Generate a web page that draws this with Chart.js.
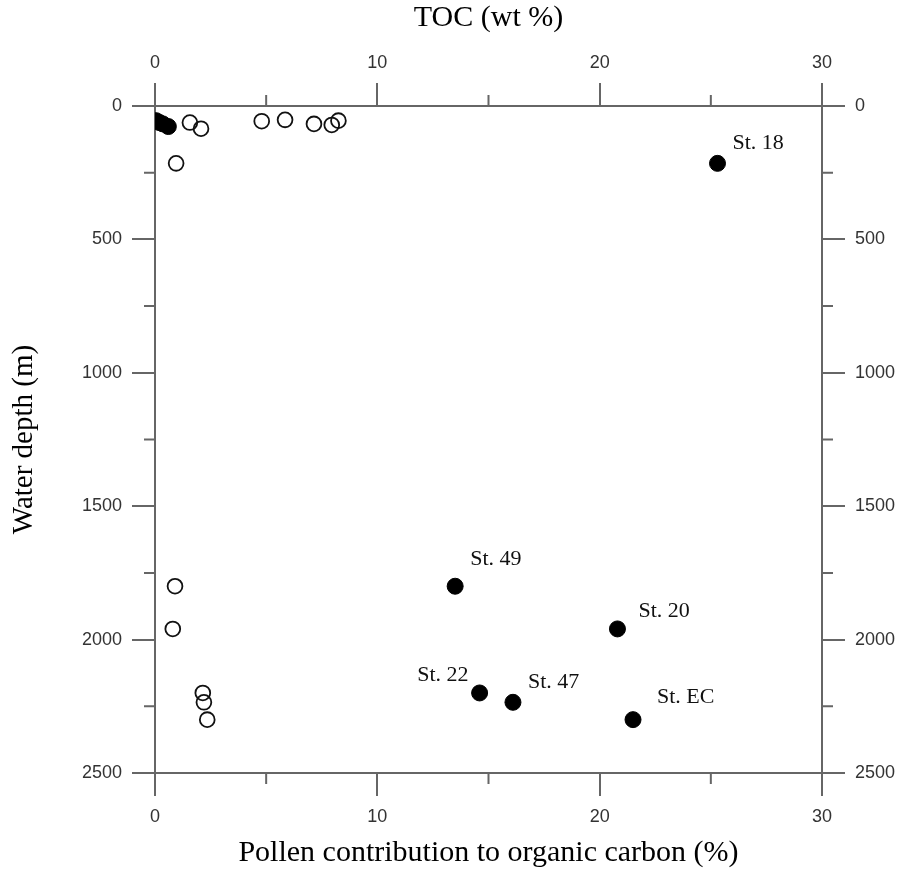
<!DOCTYPE html>
<html>
<head>
<meta charset="utf-8">
<script src="https://cdn.jsdelivr.net/npm/chart.js@4/dist/chart.umd.min.js"></script>
<style>
  html, body { margin: 0; padding: 0; background: #fff; }
  #wrap { position: relative; width: 901px; height: 869px; }
  #err { position: absolute; left: 10px; top: 10px; font: 12px monospace; color: red; white-space: pre-wrap; width: 880px; }
</style>
</head>
<body>
<div id="wrap"><canvas id="c" width="901" height="869"></canvas><pre id="err"></pre></div>
<script>
// ---- Data ----
const pollenX     = [0.05, 0.2, 0.35, 0.6, 25.3, 13.5, 20.8, 14.6, 16.1, 21.5];
const pollenDepth = [55, 62, 67, 77, 215, 1800, 1960, 2200, 2235, 2300];
const stationNames = ['', '', '', '', 'St. 18', 'St. 49', 'St. 20', 'St. 22', 'St. 47', 'St. EC'];

const tocX     = [1.57, 2.07, 4.8, 5.85, 7.15, 7.95, 8.25, 0.95, 0.9, 0.8, 2.15, 2.2, 2.35];
const tocDepth = [62, 85, 57, 52, 67, 71, 55, 215, 1800, 1960, 2200, 2235, 2300];

const xMajorStep = 10;
const xMinorStep = 5;
const yMajorStep = 500;
const yMinorStep = 250;

const xTitle = 'Pollen contribution to organic carbon (%)';
const x2Title = 'TOC (wt %)';
const yTitle = 'Water depth (m)';

// ---- Styles ----
const AXIS = '#666666';
const TICKCOLOR = '#333333';
const labelStyle = {
  'St. 18': [15, -20, 'left'],
  'St. 49': [15, -27, 'left'],
  'St. 20': [21, -18, 'left'],
  'St. 22': [-11, -18, 'right'],
  'St. 47': [15, -20, 'left'],
  'St. EC': [24, -22, 'left']
};

function showErr(e) {
  document.getElementById('err').textContent += String(e && (e.stack || e.message) || e) + '\n';
}
window.addEventListener('error', ev => showErr(ev.error || ev.message));

function tickFont() { return { family: '"Liberation Sans", Arial, sans-serif', size: 18 }; }
function titleFont(sz) { return { family: '"Liberation Serif", "Times New Roman", serif', size: sz, lineHeight: 1 }; }

function isMajor(v, step) { return Math.abs(v / step - Math.round(v / step)) < 1e-6; }

function xScale(position, title, size, pad, tpadTop, tpadBottom) {
  return {
    type: 'linear', position: position, min: 0, max: 30,
    afterFit: function (s) { s.height = size; },
    grid: {
      drawOnChartArea: false, drawTicks: true, tickLength: 23, lineWidth: 2,
      color: function (c) { return (c.tick && isMajor(c.tick.value, xMajorStep)) ? AXIS : 'rgba(0,0,0,0)'; }
    },
    border: { display: true, color: AXIS, width: 2 },
    ticks: {
      stepSize: xMinorStep, autoSkip: false, maxRotation: 0, minRotation: 0,
      font: tickFont(), color: TICKCOLOR, padding: pad,
      callback: function (v) { return isMajor(v, xMajorStep) ? String(v) : ''; }
    },
    title: { display: true, text: title, font: titleFont(30), color: '#000', padding: { top: tpadTop, bottom: tpadBottom } }
  };
}
function yScale(position, size, pad, withTitle) {
  const o = {
    type: 'linear', position: position, min: 0, max: 2500, reverse: true,
    afterFit: function (s) { s.width = size; },
    grid: {
      drawOnChartArea: false, drawTicks: true, tickLength: 23, lineWidth: 2,
      color: function (c) { return (c.tick && isMajor(c.tick.value, yMajorStep)) ? AXIS : 'rgba(0,0,0,0)'; }
    },
    border: { display: true, color: AXIS, width: 2 },
    ticks: {
      stepSize: yMinorStep, autoSkip: false,
      font: tickFont(), color: TICKCOLOR, padding: pad,
      callback: function (v) { return isMajor(v, yMajorStep) ? String(v) : ''; }
    }
  };
  if (withTitle) {
    o.title = { display: true, text: yTitle, font: titleFont(29), color: '#000', padding: { top: 10, bottom: 0 } };
  }
  return o;
}

const minorTicksPlugin = {
  id: 'minorTicks',
  afterDraw: function (chart) {
    const ctx = chart.ctx;
    const s = chart.scales;
    const a = chart.chartArea;
    const L = 11;
    ctx.save();
    ctx.strokeStyle = AXIS;
    ctx.lineWidth = 2;
    ctx.beginPath();
    s.x.ticks.forEach(function (t) {
      if (isMajor(t.value, xMajorStep)) return;
      const px = s.x.getPixelForValue(t.value);
      ctx.moveTo(px, a.bottom); ctx.lineTo(px, a.bottom + L);
    });
    s.x2.ticks.forEach(function (t) {
      if (isMajor(t.value, xMajorStep)) return;
      const px = s.x2.getPixelForValue(t.value);
      ctx.moveTo(px, a.top); ctx.lineTo(px, a.top - L);
    });
    s.y.ticks.forEach(function (t) {
      if (isMajor(t.value, yMajorStep)) return;
      const py = s.y.getPixelForValue(t.value);
      ctx.moveTo(a.left, py); ctx.lineTo(a.left - L, py);
    });
    s.y2.ticks.forEach(function (t) {
      if (isMajor(t.value, yMajorStep)) return;
      const py = s.y2.getPixelForValue(t.value);
      ctx.moveTo(a.right, py); ctx.lineTo(a.right + L, py);
    });
    ctx.stroke();
    ctx.restore();
  }
};

const stationLabelPlugin = {
  id: 'stationLabels',
  afterDatasetsDraw: function (chart) {
    const ctx = chart.ctx;
    const meta = chart.getDatasetMeta(0);
    ctx.save();
    ctx.font = '22px "Liberation Serif", "Times New Roman", serif';
    ctx.fillStyle = '#111';
    ctx.textBaseline = 'middle';
    stationNames.forEach(function (name, i) {
      if (!name) return;
      const el = meta.data[i];
      const st = labelStyle[name] || [12, -20, 'left'];
      ctx.textAlign = st[2];
      ctx.fillText(name, el.x + st[0], el.y + st[1]);
    });
    ctx.restore();
  }
};

try {
  const pollenPts = pollenX.map(function (x, i) { return { x: x, y: pollenDepth[i] }; });
  const tocPts = tocX.map(function (x, i) { return { x: x, y: tocDepth[i] }; });

  new Chart(document.getElementById('c'), {
    type: 'scatter',
    data: {
      datasets: [
        {
          label: 'Pollen contribution',
          data: pollenPts,
          xAxisID: 'x', yAxisID: 'y',
          pointRadius: 8, pointHoverRadius: 8,
          backgroundColor: '#000', borderColor: '#000', borderWidth: 1
        },
        {
          label: 'TOC',
          data: tocPts,
          xAxisID: 'x2', yAxisID: 'y',
          pointRadius: 7.4, pointHoverRadius: 7.4,
          backgroundColor: 'rgba(0,0,0,0)', borderColor: '#111', borderWidth: 1.8
        }
      ]
    },
    options: {
      responsive: false,
      animation: false,
      layout: { padding: 0 },
      plugins: { legend: { display: false }, tooltip: { enabled: false } },
      scales: {
        x: xScale('bottom', xTitle, 96, 10, 0, 1),
        x2: xScale('top', x2Title, 106, 9, 3, 0),
        y: yScale('left', 155, 10, true),
        y2: yScale('right', 79, 10, false)
      }
    },
    plugins: [minorTicksPlugin, stationLabelPlugin]
  });
} catch (e) { showErr(e); }
</script>
</body>
</html>
